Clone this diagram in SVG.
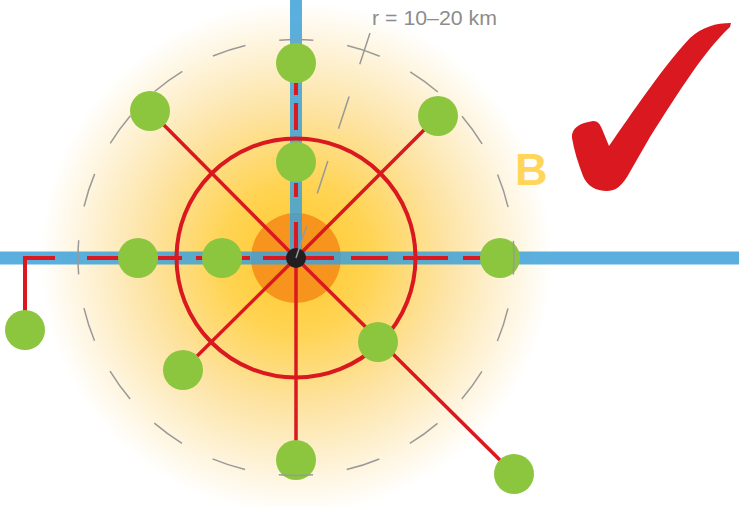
<svg xmlns="http://www.w3.org/2000/svg" width="739" height="507" viewBox="0 0 739 507">
  <defs>
    <radialGradient id="glow" cx="296" cy="258" r="256" gradientUnits="userSpaceOnUse">
      <stop offset="0" stop-color="#ffc928"/>
      <stop offset="0.3" stop-color="#ffd455"/>
      <stop offset="0.58" stop-color="#fde3a2"/>
      <stop offset="0.82" stop-color="#fef3d8"/>
      <stop offset="1" stop-color="#ffffff"/>
    </radialGradient>
  </defs>
  <style>
    .node { fill: #8cc63f; }
    .blue { stroke: #3da1d9; stroke-opacity: 0.85; fill: none; }
    .red { stroke: #d9181f; fill: none; }
    .gray { stroke: #999999; stroke-width: 1.5; fill: none; }
    .label { font-family: "Liberation Sans", Arial, sans-serif; }
  </style>

  <rect width="739" height="507" fill="#ffffff"/>
  <circle cx="296" cy="258" r="256" fill="url(#glow)"/>
  <circle id="core" cx="296" cy="258" r="45" fill="#f7941d"/>

  <g id="connectors">
    <!-- transit lines -->
    <line class="blue" x1="0" y1="258" x2="739" y2="258" stroke-width="13"/>
    <line class="blue" x1="296" y1="0" x2="296" y2="258" stroke-width="12"/>
    <!-- ring -->
    <circle class="red" cx="296" cy="258" r="119.5" stroke-width="4"/>
    <!-- radial links -->
    <g class="red" stroke-width="3.5">
      <line x1="296" y1="258" x2="150" y2="111"/>
      <line x1="296" y1="258" x2="438" y2="116"/>
      <line x1="296" y1="258" x2="296" y2="460"/>
      <line x1="296" y1="258" x2="183" y2="370"/>
      <line x1="296" y1="258" x2="514" y2="474"/>
    </g>
    <!-- dashed links along transit lines -->
    <g class="red" stroke-width="4">
      <path d="M25,330 V258 H55"/>
      <path d="M87,258 H120 M158,258 H182 M196,258 H208 M242,258 H250 M263,258 H334 M351,258 H388 M403,258 H448 M463,258 H482"/>
      <path d="M296,83 V95 M296,103 V130 M296,183 V197 M296,222 V258"/>
    </g>
  </g>

  <circle id="center" cx="296" cy="258" r="10" fill="#231f20"/>

  <g id="n-top"><circle class="node" cx="296" cy="63" r="20"/></g>
  <g id="n-nw"><circle class="node" cx="150" cy="111" r="20"/></g>
  <g id="n-ne"><circle class="node" cx="438" cy="116" r="20"/></g>
  <g id="n-inner-top"><circle class="node" cx="296" cy="162" r="20"/></g>
  <g id="n-west"><circle class="node" cx="138" cy="258" r="20"/></g>
  <g id="n-inner-west"><circle class="node" cx="222" cy="258" r="20"/></g>
  <g id="n-east"><circle class="node" cx="500" cy="258" r="20"/></g>
  <g id="n-far-west"><circle class="node" cx="25" cy="330" r="20"/></g>
  <g id="n-inner-se"><circle class="node" cx="378" cy="342" r="20"/></g>
  <g id="n-sw"><circle class="node" cx="183" cy="370" r="20"/></g>
  <g id="n-south"><circle class="node" cx="296" cy="460" r="20"/></g>
  <g id="n-far-se"><circle class="node" cx="514" cy="474" r="20"/></g>

  <g id="radius">
    <circle class="gray" cx="296" cy="257.5" r="218" stroke-dasharray="34.24 34.24" stroke-dashoffset="17.12"/>
    <line class="gray" x1="296" y1="258" x2="370" y2="33" stroke-dasharray="34 34"/>
    <text class="label" x="372" y="25" font-size="21" fill="#8c8c8c" textLength="125" lengthAdjust="spacingAndGlyphs">r = 10–20 km</text>
  </g>

  <g id="label-b">
    <text class="label" x="515" y="185" font-size="45" font-weight="bold" fill="#ffd55a">B</text>
  </g>

  <g id="check">
    <path fill="#d9181f" d="M572,138 C571,128 580,123 593,121 C598,121 600,124 602,129 L609,146 C622,128 660,70 690,38 C702,27 716,23 731,23 L730,27 C705,50 680,90 650,137 L627,177 C620,188 614,191 607,191 C596,191 587,186 583,176 C578,163 574,150 572,138 Z"/>
  </g>
</svg>
